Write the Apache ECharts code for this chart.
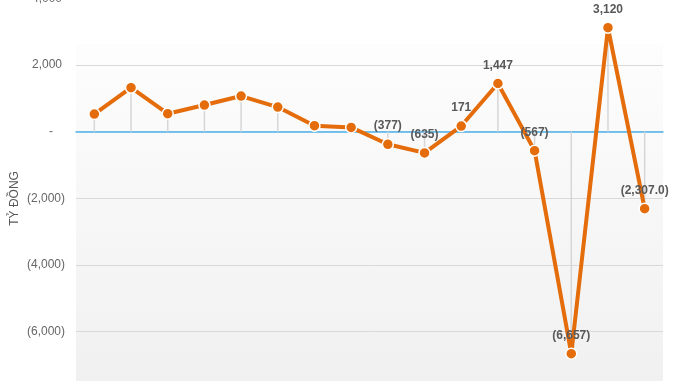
<!DOCTYPE html>
<html>
<head>
<meta charset="utf-8">
<script src="https://cdn.jsdelivr.net/npm/echarts@6/dist/echarts.min.js"></script>
<style>
html,body{margin:0;padding:0;background:#fff;overflow:hidden;width:678px;height:381px;}
#c{width:678px;height:440px;}
</style>
</head>
<body>
<div id="c"></div>
<script>
// Data
const categories = ['1','2','3','4','5','6','7','8','9','10','11','12','13','14','15','16'];
const values = [530, 1320, 540, 800, 1070, 740, 180, 130, -377, -635, 171, 1447, -567, -6657, 3120, -2307];
const labelShown = [false,false,false,false,false,false,false,false,true,true,true,true,true,true,true,true];
const labelDecimals = [0,0,0,0,0,0,0,0,0,0,0,0,0,0,0,1];
const yTicks = [4000, 2000, 0, -2000, -4000, -6000, -8000];
const yAxisTitle = 'TỶ ĐỒNG';

function fmt(v, d) {
  const s = Math.abs(v).toLocaleString('en-US', {minimumFractionDigits: d, maximumFractionDigits: d});
  return v < 0 ? '(' + s + ')' : s;
}

const chart = echarts.init(document.getElementById('c'), null, {renderer: 'canvas'});
const font = 'Liberation Sans, Arial, sans-serif';
chart.setOption({
  animation: false,
  graphic: [{
    type: 'rect', z: -10, silent: true,
    shape: {x: 76, y: 44, width: 587, height: 400},
    style: {fill: new echarts.graphic.LinearGradient(0, 0, 0, 1, [
      {offset: 0, color: '#fdfdfd'}, {offset: 1, color: '#eeeeee'}])}
  }],
  grid: {left: 76, right: 15, top: -1.6, bottom: 41.6, containLabel: false, outerBoundsMode: 'none'},
  xAxis: {
    type: 'category', data: categories, boundaryGap: true,
    axisLine: {onZero: true, lineStyle: {color: '#4db3ea', width: 1.5}},
    axisTick: {show: false}, axisLabel: {show: false}, splitLine: {show: false}
  },
  yAxis: {
    type: 'value', min: yTicks[yTicks.length - 1], max: yTicks[0], interval: 2000,
    name: yAxisTitle, nameLocation: 'middle', nameGap: 55, nameRotate: 90, nameMoveOverlap: false,
    nameTextStyle: {color: '#595959', fontSize: 12, fontFamily: font},
    axisLine: {show: false}, axisTick: {show: false},
    splitLine: {lineStyle: {color: '#d9d9d9', width: 1}},
    axisLabel: {
      margin: 11, color: '#666666', fontSize: 12, fontFamily: font,
      formatter: function (v) {
        if (v === 0) return '{z|-}';
        if (v > 0) return '{p|' + fmt(v, 0) + '}';
        return fmt(v, 0);
      },
      rich: {
        p: {padding: [0, 3, 0, 0], color: '#666666', fontSize: 12, fontFamily: font},
        z: {padding: [0, 12, 0, 0], color: '#666666', fontSize: 12, fontFamily: font}
      }
    }
  },
  series: [
    {
      type: 'bar', data: values, barWidth: 1.5, silent: true, z: 1,
      itemStyle: {color: '#d6d6d6'}
    },
    {
      type: 'line', z: 3,
      data: values.map(function (v, i) {
        return {value: v, label: {show: labelShown[i]}};
      }),
      lineStyle: {color: '#e46c0a', width: 4},
      symbol: 'circle', symbolSize: 11,
      itemStyle: {color: '#e46c0a', borderColor: '#ffffff', borderWidth: 1.5},
      label: {
        position: 'top', distance: 6, color: '#595959', fontWeight: 'bold',
        fontSize: 12, fontFamily: font,
        formatter: function (p) { return fmt(p.value, labelDecimals[p.dataIndex]); }
      }
    }
  ]
});
</script>
</body>
</html>
